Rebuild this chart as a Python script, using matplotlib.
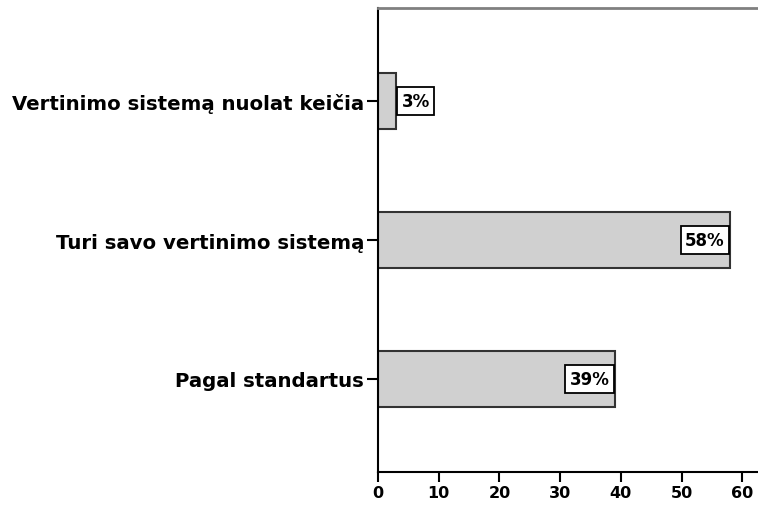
import matplotlib
matplotlib.use("Agg")
import matplotlib.pyplot as plt

# Responses, bottom to top
categories = ["Pagal standartus", "Turi savo vertinimo sistemą", "Vertinimo sistemą nuolat keičia"]
percents = [39, 58, 3]
xticks = [0, 10, 20, 30, 40, 50, 60]

plt.rcParams["font.family"] = ["DejaVu Sans"]
plt.rcParams["font.weight"] = "bold"

fig = plt.figure(figsize=(7.58, 5.06), dpi=100)
ax = fig.add_axes([0.4987, 0.0652, 0.5013, 0.9168])

ypos = list(range(len(categories)))
ax.barh(ypos, percents, height=0.4, color="#d0d0d0", edgecolor="#333333", linewidth=1.5)

# value boxes: inside the bar end for long bars, just past the end for short ones
box = dict(boxstyle="square,pad=0.28", facecolor="white", edgecolor="black", lw=1.3)
for y, v in zip(ypos, percents):
    inside = v > 10
    ax.annotate(f"{v}%", xy=(v, y), xytext=(-3.8 if inside else 3.8, 0),
                textcoords="offset points", ha="right" if inside else "left",
                va="center", fontsize=12, fontweight="bold", bbox=box)

ax.set_xlim(0, 62.6)
ax.set_ylim(-0.67, 2.67)
ax.set_yticks(ypos)
ax.set_yticklabels(categories, fontsize=14.2, fontweight="bold")
ax.set_xticks(xticks)
ax.set_xticklabels([str(t) for t in xticks], fontsize=11.5, fontweight="bold")
ax.tick_params(axis="y", length=8, width=1.5, pad=2)
ax.tick_params(axis="x", length=7, width=1.5, pad=2)

ax.spines["right"].set_visible(False)
ax.spines["top"].set_color("#808080")
ax.spines["top"].set_linewidth(2)
ax.spines["left"].set_linewidth(1.5)
ax.spines["bottom"].set_linewidth(1.5)

fig.savefig("out.png", dpi=100)
